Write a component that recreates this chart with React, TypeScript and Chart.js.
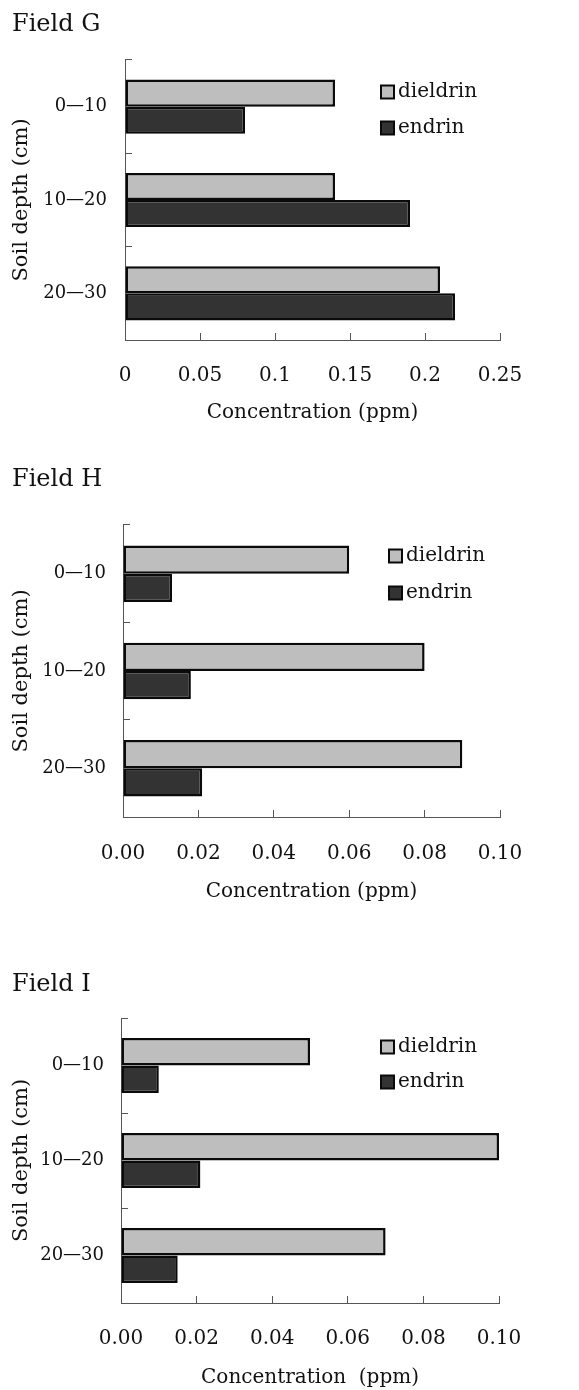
import React, { useEffect, useRef } from "react";
import { Chart, registerables } from "chart.js";

Chart.register(...registerables);

const depthLabels = ["0\u201410", "10\u201420", "20\u201430"];
const seriesNames = ["dieldrin", "endrin"];

const fieldGDieldrin = [0.14, 0.14, 0.21];
const fieldGEndrin = [0.08, 0.19, 0.22];
const fieldGTicks = ["0", "0.05", "0.1", "0.15", "0.2", "0.25"];

const fieldHDieldrin = [0.06, 0.08, 0.09];
const fieldHEndrin = [0.013, 0.018, 0.021];
const fieldHTicks = ["0.00", "0.02", "0.04", "0.06", "0.08", "0.10"];

const fieldIDieldrin = [0.05, 0.1, 0.07];
const fieldIEndrin = [0.01, 0.021, 0.015];
const fieldITicks = ["0.00", "0.02", "0.04", "0.06", "0.08", "0.10"];

const FONT = "'DejaVu Serif', 'Liberation Serif', serif";
const TEXT = "#111111";
const AXIS = "#555555";
const FILLS = ["#bebebe", "#333333"];

type PanelSpec = {
  title: string;
  dieldrin: number[];
  endrin: number[];
  ticks: string[];
  max: number;
  step: number;
  xTitle: string;
  canvasTop: number;
  height: number;
  areaLeft: number;
  areaRight: number;
  areaTop: number;
  areaBottom: number;
  titleY: number;
  xTickPad: number;
  xTitlePad: number;
  yTickPad: number;
  legendX: number;
  legendRows: number[];
};

const panels: PanelSpec[] = [
  {
    title: "Field G",
    dieldrin: fieldGDieldrin,
    endrin: fieldGEndrin,
    ticks: fieldGTicks,
    max: 0.25,
    step: 0.05,
    xTitle: "Concentration (ppm)",
    canvasTop: 0,
    height: 440,
    areaLeft: 125,
    areaRight: 500,
    areaTop: 60,
    areaBottom: 340,
    titleY: 25,
    xTickPad: 31,
    xTitlePad: 15,
    yTickPad: 25,
    legendX: 380,
    legendRows: [92, 128],
  },
  {
    title: "Field H",
    dieldrin: fieldHDieldrin,
    endrin: fieldHEndrin,
    ticks: fieldHTicks,
    max: 0.1,
    step: 0.02,
    xTitle: "Concentration (ppm)",
    canvasTop: 460,
    height: 460,
    areaLeft: 123,
    areaRight: 500,
    areaTop: 65,
    areaBottom: 357,
    titleY: 20,
    xTickPad: 32,
    xTitlePad: 16,
    yTickPad: 24,
    legendX: 388,
    legendRows: [96, 133],
  },
  {
    title: "Field I",
    dieldrin: fieldIDieldrin,
    endrin: fieldIEndrin,
    ticks: fieldITicks,
    max: 0.1,
    step: 0.02,
    xTitle: "Concentration  (ppm)",
    canvasTop: 960,
    height: 430,
    areaLeft: 121,
    areaRight: 499,
    areaTop: 58,
    areaBottom: 343,
    titleY: 25,
    xTickPad: 31,
    xTitlePad: 0,
    yTickPad: 24,
    legendX: 380,
    legendRows: [87, 122],
  },
];

function Panel({ spec }: { spec: PanelSpec }) {
  const ref = useRef<HTMLCanvasElement | null>(null);

  useEffect(() => {
    if (!ref.current) return;
    const titlePlugin = {
      id: "panelTitle",
      afterDraw(chart: any) {
        const ctx = chart.ctx;
        ctx.save();
        ctx.fillStyle = TEXT;
        ctx.font = `24px ${FONT}`;
        ctx.textAlign = "left";
        ctx.textBaseline = "middle";
        ctx.fillText(spec.title, 12, spec.titleY);
        ctx.restore();
      },
    };
    const legendPlugin = {
      id: "panelLegend",
      afterDraw(chart: any) {
        const ctx = chart.ctx;
        ctx.save();
        chart.data.datasets.forEach((ds: any, i: number) => {
          const cy = spec.legendRows[i];
          const size = 15;
          const x = spec.legendX;
          ctx.fillStyle = "#0a0a0a";
          ctx.fillRect(x, cy - size / 2, size, size);
          ctx.fillStyle = ds.backgroundColor;
          ctx.fillRect(x + 2, cy - size / 2 + 2, size - 4, size - 4);
          ctx.fillStyle = TEXT;
          ctx.font = `20px ${FONT}`;
          ctx.textAlign = "left";
          ctx.textBaseline = "middle";
          ctx.fillText(ds.label, x + size + 3, cy);
        });
        ctx.restore();
      },
    };

    const chart = new Chart(ref.current, {
      type: "bar",
      data: {
        labels: depthLabels,
        datasets: [
          {
            label: seriesNames[0],
            data: spec.dieldrin,
            backgroundColor: FILLS[0],
            borderColor: "#0a0a0a",
            borderWidth: 2.5,
            borderSkipped: false,
            categoryPercentage: 0.58,
            barPercentage: 1,
          },
          {
            label: seriesNames[1],
            data: spec.endrin,
            backgroundColor: FILLS[1],
            borderColor: "#0a0a0a",
            borderWidth: 2.5,
            borderSkipped: false,
            categoryPercentage: 0.58,
            barPercentage: 1,
          },
        ],
      },
      options: {
        indexAxis: "y",
        animation: false,
        responsive: false,
        maintainAspectRatio: false,
        layout: {
          padding: {
            left: 0,
            top: spec.areaTop,
            right: 579 - spec.areaRight,
            bottom: 0,
          },
        },
        plugins: {
          legend: { display: false },
          tooltip: { enabled: false },
          title: { display: false },
        },
        scales: {
          x: {
            type: "linear",
            position: "bottom",
            min: 0,
            max: spec.max,
            ticks: {
              stepSize: spec.step,
              autoSkip: false,
              maxRotation: 0,
              padding: spec.xTickPad,
              color: TEXT,
              font: { family: FONT, size: 20 },
              callback: (_v: any, i: number) => spec.ticks[i],
            },
            grid: {
              drawOnChartArea: false,
              drawTicks: true,
              tickLength: -7,
              color: AXIS,
              lineWidth: 1,
            },
            border: { display: true, color: AXIS, width: 1 },
            title: {
              display: true,
              text: spec.xTitle,
              color: TEXT,
              font: { family: FONT, size: 20 },
              padding: { top: 0, bottom: spec.xTitlePad },
            },
            afterFit: (s: any) => {
              s.height = spec.height - spec.areaBottom;
            },
          },
          y: {
            type: "category",
            position: "left",
            ticks: {
              padding: spec.yTickPad,
              color: TEXT,
              font: { family: FONT, size: 18 },
            },
            grid: {
              offset: true,
              drawOnChartArea: false,
              drawTicks: true,
              tickLength: -7,
              color: AXIS,
              lineWidth: 1,
            },
            border: { display: true, color: AXIS, width: 1 },
            title: {
              display: true,
              text: "Soil depth (cm)",
              color: TEXT,
              font: { family: FONT, size: 21 },
              padding: { top: 9, bottom: 0 },
            },
            afterFit: (s: any) => {
              s.width = spec.areaLeft;
            },
          },
        },
      } as any,
      plugins: [titlePlugin, legendPlugin],
    });
    return () => chart.destroy();
  }, [spec]);

  return (
    <canvas
      ref={ref}
      width={579}
      height={spec.height}
      style={{
        position: "absolute",
        left: 0,
        top: spec.canvasTop,
        width: 579,
        height: spec.height,
      }}
    />
  );
}

export default function App() {
  return (
    <div
      style={{
        position: "absolute",
        left: 0,
        top: 0,
        width: 579,
        height: 1390,
        background: "#ffffff",
        overflow: "hidden",
      }}
    >
      {panels.map((p) => (
        <Panel key={p.title} spec={p} />
      ))}
    </div>
  );
}
